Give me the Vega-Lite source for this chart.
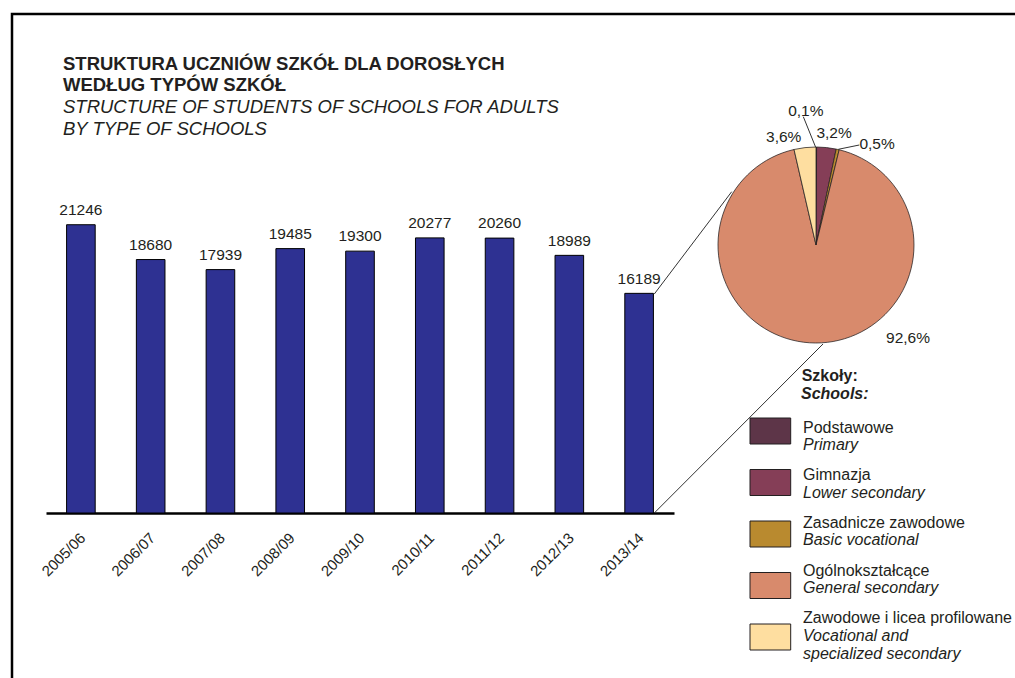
{
  "$schema": "https://vega.github.io/schema/vega-lite/v6.json",
  "width": 1005,
  "height": 667,
  "autosize": {"type": "none"},
  "padding": {"left": 12, "top": 14, "right": 0, "bottom": 0},
  "background": "#ffffff",
  "config": {
    "view": {"stroke": "#000000", "strokeWidth": 2.5},
    "font": "Liberation Sans",
    "locale": {"number": {"decimal": ",", "thousands": " ", "grouping": [3], "currency": ["", " zł"], "percent": "%"}}
  },
  "title": {
    "text": ["STRUKTURA UCZNIÓW SZKÓŁ DLA DOROSŁYCH", "WEDŁUG TYPÓW SZKÓŁ"],
    "subtitle": ["STRUCTURE OF STUDENTS OF SCHOOLS FOR ADULTS", "BY TYPE OF SCHOOLS"],
    "anchor": "start",
    "frame": "group",
    "orient": "top",
    "offset": 0,
    "dx": 51,
    "dy": 124.5,
    "font": "Liberation Sans",
    "fontSize": 18.5,
    "fontWeight": "bold",
    "lineHeight": 21.5,
    "color": "#231f20",
    "subtitleFont": "Liberation Sans",
    "subtitleFontSize": 18.5,
    "subtitleFontStyle": "italic",
    "subtitleFontWeight": "normal",
    "subtitleColor": "#231f20",
    "subtitleLineHeight": 22.5,
    "subtitlePadding": 3
  },
  "datasets": {
    "students": [
      {"year": "2005/06", "students": 21246},
      {"year": "2006/07", "students": 18680},
      {"year": "2007/08", "students": 17939},
      {"year": "2008/09", "students": 19485},
      {"year": "2009/10", "students": 19300},
      {"year": "2010/11", "students": 20277},
      {"year": "2011/12", "students": 20260},
      {"year": "2012/13", "students": 18989},
      {"year": "2013/14", "students": 16189}
    ],
    "schools": [
      {"pl": "Podstawowe", "en": "Primary", "share": 0.001, "n": 1},
      {"pl": "Gimnazja", "en": "Lower secondary", "share": 0.032, "n": 2},
      {"pl": "Zasadnicze zawodowe", "en": "Basic vocational", "share": 0.005, "n": 3},
      {"pl": "Ogólnokształcące", "en": "General secondary", "share": 0.926, "n": 4},
      {"pl": "Zawodowe i licea profilowane", "en": "Vocational and\nspecialized secondary", "share": 0.036, "n": 5}
    ]
  },
  "layer": [
    {
      "data": {"name": "students"},
      "encoding": {
        "x": {
          "field": "year", "type": "ordinal",
          "scale": {"range": [34, 662], "paddingInner": 0.59, "paddingOuter": 0.295},
          "axis": {
            "title": null, "orient": "bottom", "offset": -168,
            "domainColor": "#000000", "domainWidth": 2.5, "ticks": false, "grid": false,
            "labelAngle": -45, "labelFontSize": 15, "labelColor": "#231f20",
            "labelFont": "Liberation Sans", "labelPadding": 17, "labelOffset": -3
          }
        },
        "y": {
          "field": "students", "type": "quantitative",
          "scale": {"domain": [0, 22000], "range": [499, 200.5], "nice": false},
          "axis": null
        }
      },
      "layer": [
        {"mark": {"type": "bar", "color": "#2E3192", "stroke": "#000000", "strokeWidth": 1}},
        {
          "mark": {"type": "text", "dy": -9.7, "baseline": "alphabetic", "align": "center", "fontSize": 15.5, "color": "#231f20"},
          "encoding": {"text": {"field": "students", "type": "quantitative", "format": "d"}}
        }
      ]
    },
    {
      "data": {"name": "schools"},
      "encoding": {
        "theta": {"field": "share", "type": "quantitative", "stack": true},
        "order": {"field": "n", "type": "quantitative"},
        "detail": {"field": "pl", "type": "nominal"},
        "x": {"value": 804},
        "y": {"value": 231}
      },
      "layer": [
        {
          "mark": {"type": "arc", "outerRadius": 98, "stroke": "#231f20", "strokeWidth": 0.75},
          "encoding": {
            "color": {
              "field": "pl", "type": "nominal",
              "scale": {
                "domain": ["Podstawowe", "Gimnazja", "Zasadnicze zawodowe", "Ogólnokształcące", "Zawodowe i licea profilowane"],
                "range": ["#5D3548", "#853E57", "#B98A2F", "#D88A6C", "#FEDEA0"]
              },
              "legend": null
            }
          }
        },
        {
          "mark": {"type": "text", "radius": 134.5, "dx": -10.6, "dy": 0, "fontSize": 15.5, "color": "#231f20", "align": "center", "baseline": "middle"},
          "encoding": {"text": {"condition": {"test": "datum.pl === 'Podstawowe'", "field": "share", "type": "quantitative", "format": ".1%"}, "value": ""}}
        },
        {
          "mark": {"type": "text", "radius": 113, "dx": 6, "dy": 0.4, "fontSize": 15.5, "color": "#231f20", "align": "center", "baseline": "middle"},
          "encoding": {"text": {"condition": {"test": "datum.pl === 'Gimnazja'", "field": "share", "type": "quantitative", "format": ".1%"}, "value": ""}}
        },
        {
          "mark": {"type": "text", "radius": 118, "dx": 35, "dy": 13.8, "fontSize": 15.5, "color": "#231f20", "align": "center", "baseline": "middle"},
          "encoding": {"text": {"condition": {"test": "datum.pl === 'Zasadnicze zawodowe'", "field": "share", "type": "quantitative", "format": ".1%"}, "value": ""}}
        },
        {
          "mark": {"type": "text", "radius": 131, "dx": 92.8, "dy": -37.7, "fontSize": 15.5, "color": "#231f20", "align": "center", "baseline": "middle"},
          "encoding": {"text": {"condition": {"test": "datum.pl === 'Ogólnokształcące'", "field": "share", "type": "quantitative", "format": ".1%"}, "value": ""}}
        },
        {
          "mark": {"type": "text", "radius": 113, "dx": -19.5, "dy": 4, "fontSize": 15.5, "color": "#231f20", "align": "center", "baseline": "middle"},
          "encoding": {"text": {"condition": {"test": "datum.pl === 'Zawodowe i licea profilowane'", "field": "share", "type": "quantitative", "format": ".1%"}, "value": ""}}
        }
      ]
    },
    {
      "data": {"name": "schools"},
      "layer": [
        {
          "mark": {"type": "rect", "height": 26, "stroke": "#231f20", "strokeWidth": 1},
          "encoding": {
            "x": {"value": 738},
            "x2": {"value": 778.7},
            "y": {
              "field": "pl", "type": "nominal",
              "scale": {"type": "point", "padding": 0, "domain": ["Podstawowe", "Gimnazja", "Zasadnicze zawodowe", "Ogólnokształcące", "Zawodowe i licea profilowane"], "range": [417, 623]},
              "axis": null
            },
            "color": {
              "field": "pl", "type": "nominal",
              "scale": {
                "domain": ["Podstawowe", "Gimnazja", "Zasadnicze zawodowe", "Ogólnokształcące", "Zawodowe i licea profilowane"],
                "range": ["#5D3548", "#853E57", "#B98A2F", "#D88A6C", "#FEDEA0"]
              },
              "legend": null
            }
          }
        },
        {
          "encoding": {
            "x": {"value": 791},
            "y": {
              "field": "pl", "type": "nominal",
              "scale": {"type": "point", "padding": 0, "domain": ["Podstawowe", "Gimnazja", "Zasadnicze zawodowe", "Ogólnokształcące", "Zawodowe i licea profilowane"], "range": [418.7, 609.3]},
              "axis": null
            }
          },
          "layer": [
            {
              "mark": {"type": "text", "align": "left", "baseline": "alphabetic", "fontSize": 16, "color": "#231f20"},
              "encoding": {"text": {"field": "pl"}}
            },
            {
              "mark": {"type": "text", "align": "left", "baseline": "alphabetic", "fontSize": 16, "fontStyle": "italic", "color": "#231f20", "dy": 17.3, "lineBreak": "\n", "lineHeight": 18},
              "encoding": {"text": {"field": "en"}}
            }
          ]
        }
      ],
      "resolve": {"scale": {"y": "independent"}}
    },
    {
      "data": {"values": [{}]},
      "layer": [
        {"mark": {"type": "text", "align": "left", "baseline": "alphabetic", "fontSize": 16, "fontWeight": "bold", "color": "#231f20"},
         "encoding": {"x": {"value": 789.7}, "y": {"value": 367}, "text": {"value": "Szkoły:"}}},
        {"mark": {"type": "text", "align": "left", "baseline": "alphabetic", "fontSize": 16, "fontWeight": "bold", "fontStyle": "italic", "color": "#231f20"},
         "encoding": {"x": {"value": 789}, "y": {"value": 385}, "text": {"value": "Schools:"}}},
        {"mark": {"type": "rule", "color": "#333333", "strokeWidth": 1},
         "encoding": {"x": {"value": 642.3}, "y": {"value": 280}, "x2": {"value": 719.7}, "y2": {"value": 177.7}}},
        {"mark": {"type": "rule", "color": "#333333", "strokeWidth": 1},
         "encoding": {"x": {"value": 642.3}, "y": {"value": 499}, "x2": {"value": 811}, "y2": {"value": 330}}},
        {"mark": {"type": "rule", "color": "#333333", "strokeWidth": 1},
         "encoding": {"x": {"value": 791.3}, "y": {"value": 102.7}, "x2": {"value": 803.7}, "y2": {"value": 133.3}}},
        {"mark": {"type": "rule", "color": "#333333", "strokeWidth": 1},
         "encoding": {"x": {"value": 826.3}, "y": {"value": 135.3}, "x2": {"value": 847.3}, "y2": {"value": 131}}}
      ]
    }
  ],
  "resolve": {"scale": {"x": "independent", "y": "independent", "color": "independent", "theta": "independent"}}
}
